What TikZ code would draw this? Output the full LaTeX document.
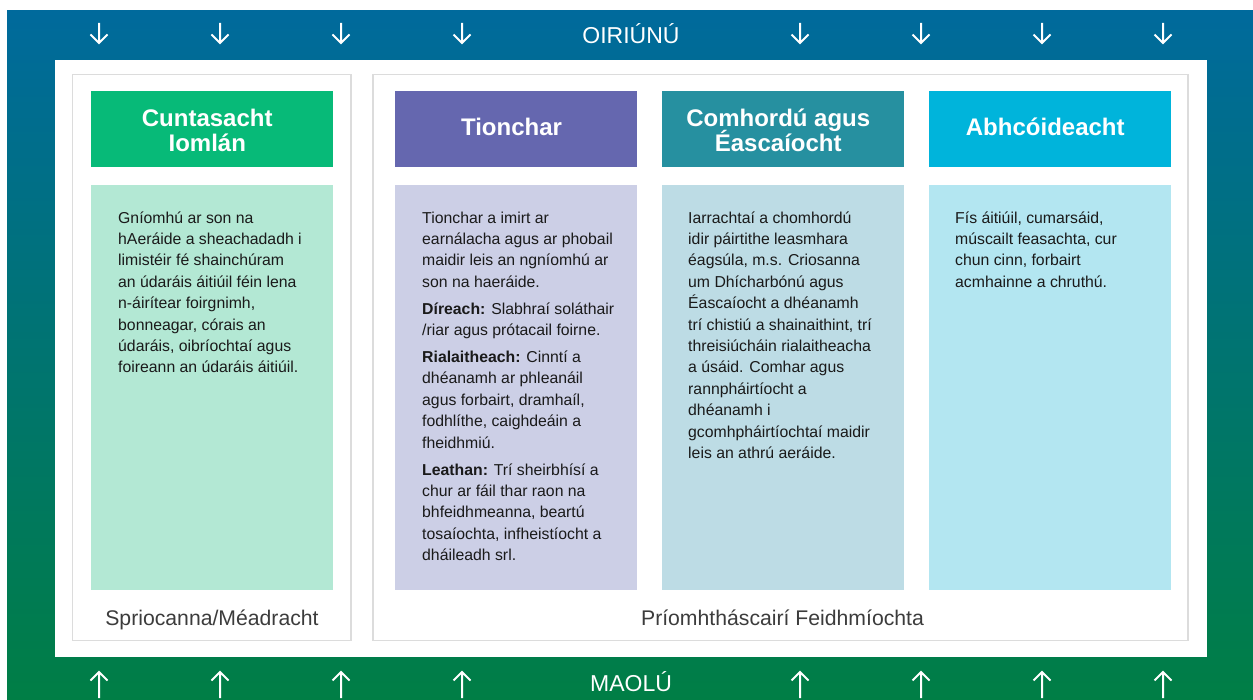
\documentclass[tikz,border=0pt]{standalone}
\usepackage{fontspec}
\setmainfont{Liberation Sans}
\definecolor{topblue}{HTML}{006A9C}
\definecolor{botgreen}{HTML}{007E45}
\definecolor{hgreen}{HTML}{07BA78}
\definecolor{bgreen}{HTML}{B3E8D4}
\definecolor{hpurple}{HTML}{6567AF}
\definecolor{bpurple}{HTML}{CCCFE6}
\definecolor{hteal}{HTML}{2690A0}
\definecolor{bteal}{HTML}{BDDCE5}
\definecolor{hcyan}{HTML}{00B4DB}
\definecolor{bcyan}{HTML}{B3E6F1}
\definecolor{panelline}{HTML}{DCDCDC}
\definecolor{bodytext}{HTML}{1A1A1A}
\definecolor{labeltext}{HTML}{3C3C3C}
\newcommand\noLineSkip{\lineskiplimit -100pt\relax\lineskip 0pt\relax}
\begin{document}
\begin{tikzpicture}[x=1pt,y=-1pt,
  hbox/.style={anchor=north west, inner sep=0, minimum width=241.5pt, minimum height=76pt},
  bbox/.style={anchor=north west, inner sep=0, minimum width=241.5pt, minimum height=405pt},
  panel/.style={draw=panelline, line width=1.5pt, fill=white},
  htext/.style={anchor=north, inner sep=0, align=center, text=white,
    font=\bfseries\fontsize{24}{25}\selectfont\noLineSkip},
  btext/.style={anchor=north west, inner sep=0, align=left, text=bodytext,
    font=\fontsize{15.8}{21.4}\selectfont\noLineSkip},
  ltext/.style={anchor=base, inner sep=0, text=labeltext, font=\fontsize{21.2}{24}\selectfont},
  wtext/.style={anchor=base, inner sep=0, text=white, font=\fontsize{23}{26}\selectfont},
  arr/.style={draw=white, line width=2pt}]
\useasboundingbox (0,0) rectangle (1253,700);
\fill[white] (0,0) rectangle (1253,700);
\shade[top color=topblue, bottom color=botgreen] (7,11) rectangle (1253,700);
\fill[white] (55,60.5) rectangle (1206.5,656.7);
\draw[panel] (72.5,74.5) rectangle (351,640.5);
\draw[panel] (373,74.5) rectangle (1188,640.5);

% header boxes
\node[hbox, fill=hgreen] (h1) at (91,90.7) {};
\node[hbox, fill=hpurple] (h2) at (395,90.7) {};
\node[hbox, fill=hteal] (h3) at (662,90.7) {};
\node[hbox, fill=hcyan] (h4) at (929,90.7) {};
% body boxes
\node[bbox, fill=bgreen] (b1) at (91,185) {};
\node[bbox, fill=bpurple] (b2) at (395,185) {};
\node[bbox, fill=bteal] (b3) at (662,185) {};
\node[bbox, fill=bcyan] (b4) at (929,185) {};

% header texts
\node[htext] (ht1) at (207.25,108.5) {\strut Cuntasacht\\Iomlán};
\node[htext] (ht2) at (511.5,118.2) {\strut Tionchar};
\node[htext] (ht3) at (778.25,108.5) {\strut Comhordú agus\\Éascaíocht};
\node[htext] (ht4) at (1045.25,118.2) {\strut Abhcóideacht};

% body texts
\node[btext] (t1) at (118,208) {\strut Gníomhú ar son na\\
hAeráide a sheachadadh i\\
limistéir fé shainchúram\\
an údaráis áitiúil féin lena\\
n-áirítear foirgnimh,\\
bonneagar, córais an\\
údaráis, oibríochtaí agus\\
foireann an údaráis áitiúil.};

\node[btext] (t2) at (422,208) {\strut Tionchar a imirt ar\\
earnálacha agus ar phobail\\
maidir leis an ngníomhú ar\\
son na haeráide.\\[5.5pt]
\textbf{Díreach:} Slabhraí soláthair\\
/riar agus prótacail foirne.\\[5.5pt]
\textbf{Rialaitheach:} Cinntí a\\
dhéanamh ar phleanáil\\
agus forbairt, dramhaíl,\\
fodhlíthe, caighdeáin a\\
fheidhmiú.\\[5.5pt]
\textbf{Leathan:} Trí sheirbhísí a\\
chur ar fáil thar raon na\\
bhfeidhmeanna, beartú\\
tosaíochta, infheistíocht a\\
dháileadh srl.};

\node[btext] (t3) at (688,208) {\strut Iarrachtaí a chomhordú\\
idir páirtithe leasmhara\\
éagsúla, m.s. Criosanna\\
um Dhícharbónú agus\\
Éascaíocht a dhéanamh\\
trí chistiú a shainaithint, trí\\
threisiúcháin rialaitheacha\\
a úsáid. Comhar agus\\
rannpháirtíocht a\\
dhéanamh i\\
gcomhpháirtíochtaí maidir\\
leis an athrú aeráide.};

\node[btext] (t4) at (955,208) {\strut Fís áitiúil, cumarsáid,\\
múscailt feasachta, cur\\
chun cinn, forbairt\\
acmhainne a chruthú.};

% labels
\node[ltext] (l1) at (212,625) {Spriocanna/Méadracht};
\node[ltext] (l2) at (782.5,625) {Príomhtháscairí Feidhmíochta};
\node[wtext] (top) at (631,43.3) {OIRIÚNÚ};
\node[wtext] (bot) at (631,691) {MAOLÚ};

% arrows
\foreach \x in {99,220,341,462,800,921,1042,1163} {
  \draw[arr] (\x,23) -- (\x,43) (\x-8.5,34.5) -- (\x,43) -- (\x+8.5,34.5);
  \draw[arr] (\x,698) -- (\x,672) (\x-8.5,680.5) -- (\x,672) -- (\x+8.5,680.5);
}
\end{tikzpicture}
\end{document}
